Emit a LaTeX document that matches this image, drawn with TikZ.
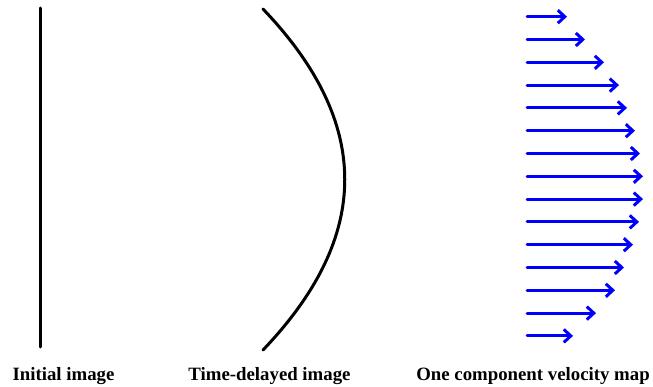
\documentclass[tikz,border=0pt]{standalone}
\usepackage{fontspec}
\setmainfont{Liberation Serif}
\usetikzlibrary{arrows.meta}
\begin{document}
\begin{tikzpicture}[x=1pt, y=-1pt, line cap=round, line join=round]
% Sketch of a line moving between two frames
\providecommand{\frameLineWidth}{3pt}
\providecommand{\velArrowColor}{blue}
\providecommand{\velArrowWidth}{3pt}
\tikzset{caption/.style={anchor=base, font=\fontsize{18.8}{22}\selectfont\bfseries, inner sep=0pt}}
\useasboundingbox (0,0) rectangle (653,387);
% Initial image: straight line
\draw[line width=\frameLineWidth] (40,8) -- (40,347);
% Time-delayed image: bent line
\draw[line width=\frameLineWidth] (263,9) .. controls (372,123) and (372,236) .. (263,350);
% Velocity map
\begin{scope}[draw=\velArrowColor, line width=\velArrowWidth, -{Straight Barb[length=7pt, width=13pt]}]
  \draw (527,16.7) -- (567,16.7);
  \draw (527,39.5) -- (585,39.5);
  \draw (527,62.3) -- (604,62.3);
  \draw (527,85.1) -- (619,85.1);
  \draw (527,107.9) -- (627,107.9);
  \draw (527,130.7) -- (635,130.7);
  \draw (527,153.5) -- (640,153.5);
  \draw (527,176.3) -- (643,176.3);
  \draw (527,199.1) -- (643,199.1);
  \draw (527,221.9) -- (639,221.9);
  \draw (527,244.7) -- (633,244.7);
  \draw (527,267.5) -- (624,267.5);
  \draw (527,290.3) -- (615,290.3);
  \draw (527,313.1) -- (596,313.1);
  \draw (527,335.9) -- (573,335.9);
\end{scope}
% Captions
\node[caption] (initial) at (63.5,380) {Initial image};
\node[caption] (delayed) at (269.5,380) {Time-delayed image};
\node[caption] (velmap) at (533,380) {One component velocity map};
\end{tikzpicture}
\end{document}
